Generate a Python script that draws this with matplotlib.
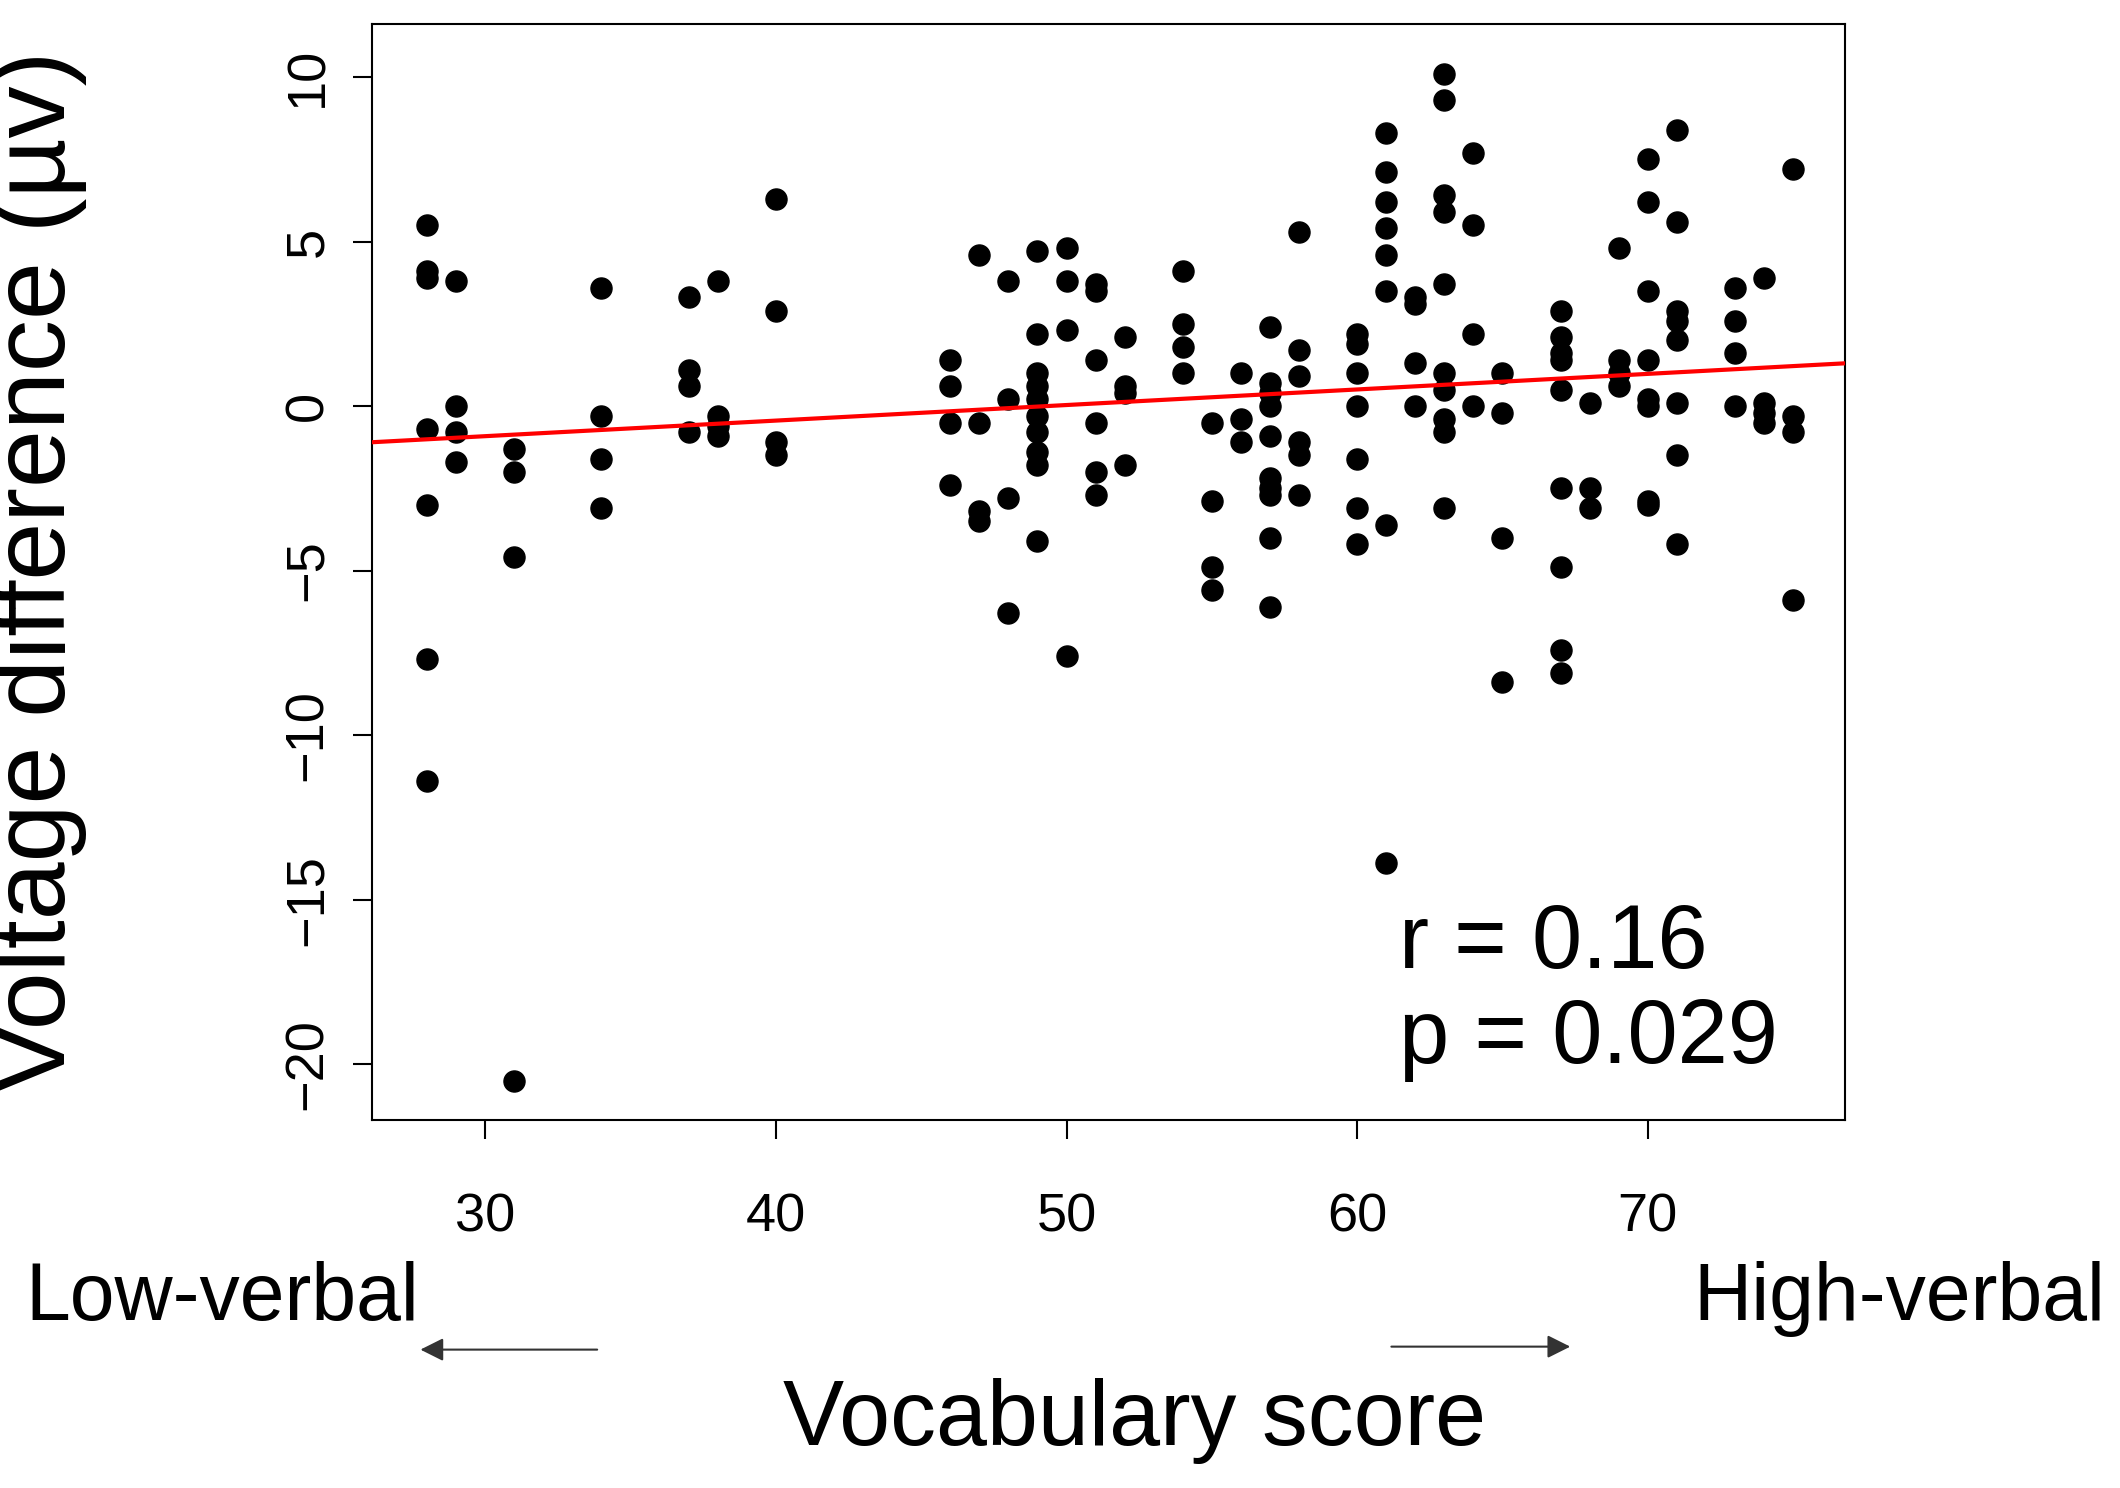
import matplotlib
matplotlib.use("Agg")
import matplotlib.pyplot as plt
import numpy as np

plt.rcParams['font.family'] = ['Liberation Sans', 'DejaVu Sans']

cols = {
 28: [5.5, 4.1, 3.9, -0.7, -3.0, -7.7, -11.4],
 29: [3.8, 0.0, -0.8, -1.7],
 31: [-1.3, -2.0, -4.6, -20.5],
 34: [3.6, -0.3, -1.6, -3.1],
 37: [3.3, 1.1, 0.6, -0.8],
 38: [3.8, -0.3, -0.6, -0.9],
 40: [6.3, 2.9, -1.1, -1.5],
 46: [1.4, 0.6, -0.5, -2.4],
 47: [4.6, -0.5, -3.2, -3.5],
 48: [3.8, 0.2, -2.8, -6.3],
 49: [4.7, 2.2, 1.0, 0.6, 0.2, -0.3, -0.8, -1.4, -1.8, -4.1],
 50: [4.8, 3.8, 2.3, -7.6],
 51: [3.7, 3.5, 1.4, -0.5, -2.0, -2.7],
 52: [2.1, 0.6, 0.4, -1.8],
 54: [4.1, 2.5, 1.8, 1.0],
 55: [-0.5, -2.9, -4.9, -5.6],
 56: [1.0, -0.4, -1.1],
 57: [2.4, 0.7, 0.4, 0.0, -0.9, -2.2, -2.5, -2.7, -4.0, -6.1],
 58: [5.3, 1.7, 0.9, -1.1, -1.5, -2.7],
 60: [2.2, 1.9, 1.0, 0.0, -1.6, -3.1, -4.2],
 61: [8.3, 7.1, 6.2, 5.4, 4.6, 3.5, -3.6, -13.9],
 62: [3.3, 3.1, 1.3, 0.0],
 63: [10.1, 9.3, 6.4, 5.9, 3.7, 1.0, 0.5, -0.4, -0.8, -3.1],
 64: [7.7, 5.5, 2.2, 0.0],
 65: [1.0, -0.2, -4.0, -8.4],
 67: [2.9, 2.1, 1.6, 1.4, 0.5, -2.5, -4.9, -7.4, -8.1],
 68: [0.1, -2.5, -3.1],
 69: [4.8, 1.4, 1.0, 0.6],
 70: [7.5, 6.2, 3.5, 1.4, 0.2, 0.0, -2.9, -3.0],
 71: [8.4, 5.6, 2.9, 2.6, 2.0, 0.1, -1.5, -4.2],
 73: [3.6, 2.6, 1.6, 0.0],
 74: [3.9, 0.1, -0.2, -0.5],
 75: [7.2, -0.3, -0.8, -5.9],
}
x = np.array([k for k, v in cols.items() for _ in v], float)
y = np.array([yy for v in cols.values() for yy in v], float)
line_x = [26.1, 76.8]
line_y = [-1.1, 1.3]

fig = plt.figure(figsize=(21.2, 14.88), dpi=100)
ax = fig.add_axes([0.1754, 0.2473, 0.6951, 0.7363])
ax.scatter(x, y, s=230, color='black', zorder=3)
ax.plot(line_x, line_y, color='red', lw=3, zorder=4)
ax.set_xlim(26.1, 76.8)
ax.set_ylim(-21.7, 11.6)
ax.set_xticks([30, 40, 50, 60, 70])
ax.set_yticks([10, 5, 0, -5, -10, -15, -20])
ax.tick_params(axis='x', labelsize=39, length=14, width=1.5, pad=38)
ax.tick_params(axis='y', labelsize=39, length=14, width=1.5, pad=14)
for lab in ax.get_yticklabels():
    lab.set_rotation(90)
    lab.set_va('center')
for s in ax.spines.values():
    s.set_linewidth(1.5)
ax.set_ylabel('Voltage difference (µv)', fontsize=75)
ax.yaxis.set_label_coords(-0.193, 0.5)
ax.text(0.697, 0.035, 'r = 0.16\np = 0.029', transform=ax.transAxes,
        fontsize=65, va='bottom', ha='left', linespacing=1.15)

fig.text(0.535, 0.045, 'Vocabulary score', fontsize=66, ha='center', va='center')
fig.text(0.012, 0.127, 'Low-verbal', fontsize=58, ha='left', va='center')
fig.text(0.993, 0.127, 'High-verbal', fontsize=58, ha='right', va='center')
fig.add_artist(matplotlib.patches.FancyArrowPatch((0.283, 0.093), (0.197, 0.093),
    transform=fig.transFigure, arrowstyle='-|>', mutation_scale=35, lw=1.5, color='#333333'))
fig.add_artist(matplotlib.patches.FancyArrowPatch((0.655, 0.095), (0.742, 0.095),
    transform=fig.transFigure, arrowstyle='-|>', mutation_scale=35, lw=1.5, color='#333333'))

fig.savefig('out.png', dpi=100)
